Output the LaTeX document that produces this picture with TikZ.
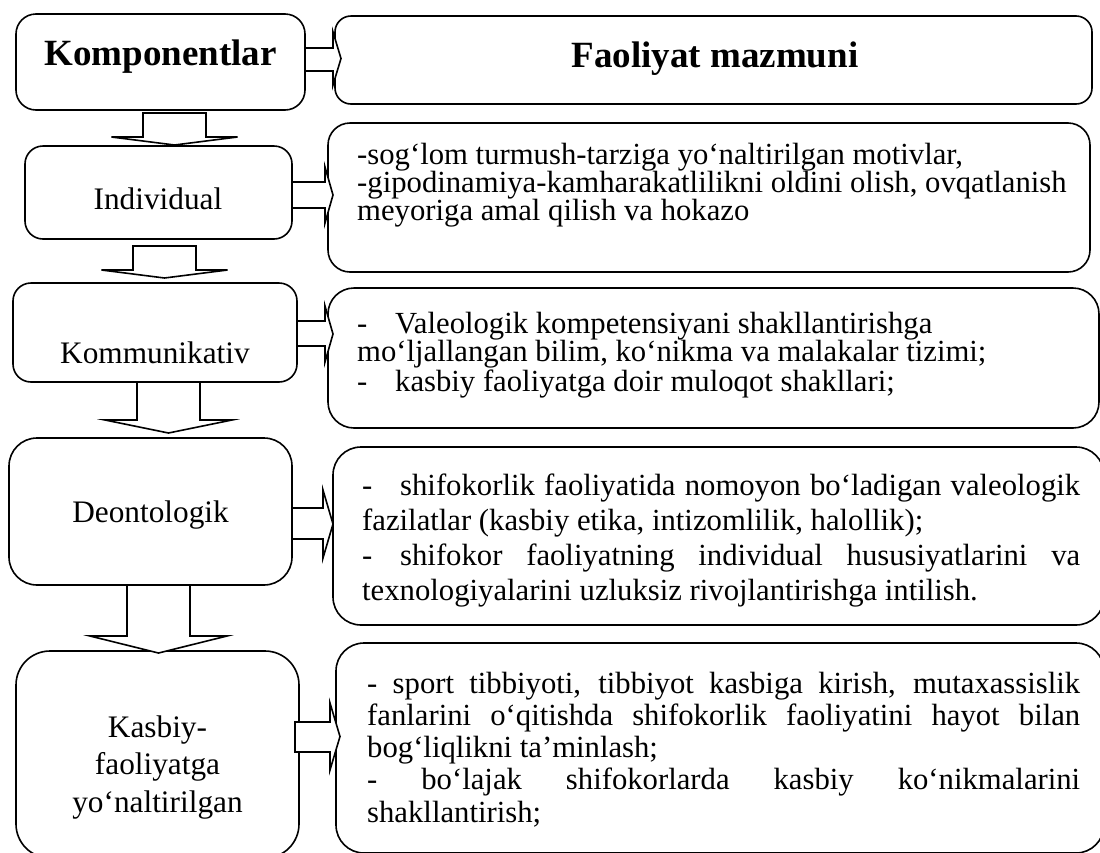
\documentclass[tikz,border=0pt]{standalone}
\usepackage{fontspec}
\setmainfont{Liberation Serif}
\usetikzlibrary{calc}
\newcommand\natsp{\spaceskip=0pt\xspaceskip=0pt\relax}
\tikzset{
  box/.style={draw, line width=1.6pt, rectangle, inner sep=0pt, outer sep=0pt},
  barrow/.style={draw, fill=white, line width=1.6pt, line join=miter},
  lbl/.style={anchor=base, inner sep=0pt, font=\fontsize{31.3pt}{37.5pt}\selectfont},
  hdr/.style={anchor=base, inner sep=0pt, font=\bfseries\fontsize{37pt}{44pt}\selectfont},
  body/.style={anchor=base west, inner sep=0pt, align=left}
}
% down block arrow: src, tgt, cx, shaft half, start gap, head base y, head half, tip offset below tgt north
\newcommand\dnarrow[8]{%
  \draw[barrow] let \p1=(#1.south), \p2=(#2.north) in
    ({#3pt-#4pt},{\y1-(#5pt)}) -- ({#3pt-#4pt},{-#6pt}) -- ({#3pt-#7pt},{-#6pt})
    -- ({#3pt},{\y2-(#8pt)}) -- ({#3pt+#7pt},{-#6pt}) -- ({#3pt+#4pt},{-#6pt})
    -- ({#3pt+#4pt},{\y1-(#5pt)}) -- cycle;}
% right block arrow: src, tgt, start offset, shaft top, shaft bottom, head base x, head top, head bottom, tip offset
\newcommand\rtarrow[9]{%
  \draw[barrow] let \p1=(#1.east), \p2=(#2.west) in
    ({\x1+(#3pt)},{-#4pt}) -- ({#6pt},{-#4pt}) -- ({#6pt},{-#7pt})
    -- ({\x2+(#9pt)},{-(#7pt+#8pt)/2}) -- ({#6pt},{-#8pt}) -- ({#6pt},{-#5pt})
    -- ({\x1+(#3pt)},{-#5pt}) -- cycle;}
\begin{document}
\begin{tikzpicture}[x=1pt,y=-1pt]
\useasboundingbox (0,0) rectangle (1100,852);
\clip (0,0) rectangle (1100,852);
% boxes
\node[box, minimum width=289pt, minimum height=96pt, rounded corners=20pt] (K) at (160.5,62) {};
\node[box, minimum width=757pt, minimum height=88pt, rounded corners=16pt] (F) at (713.5,60) {};
\node[box, minimum width=267pt, minimum height=93pt, rounded corners=18pt] (I) at (158.5,192.5) {};
\node[box, minimum width=762pt, minimum height=149pt, rounded corners=22pt] (R1) at (709,197.5) {};
\node[box, minimum width=284pt, minimum height=99pt, rounded corners=18pt] (Ko) at (155,332.5) {};
\node[box, minimum width=771pt, minimum height=140pt, rounded corners=26pt] (R2) at (713.5,358) {};
\node[box, minimum width=283pt, minimum height=147pt, rounded corners=28pt] (D) at (150.5,511.5) {};
\node[box, minimum width=771pt, minimum height=178pt, rounded corners=28pt] (R3) at (718.5,536) {};
\node[box, minimum width=283pt, minimum height=207pt, rounded corners=34pt] (Ka) at (157.5,754.5) {};
\node[box, minimum width=768pt, minimum height=210pt, rounded corners=28pt] (R4) at (720,748) {};
% down arrows
\dnarrow{K}{I}{174.5}{31.5}{3}{137}{63}{-1}
\dnarrow{I}{Ko}{164.5}{31.5}{7}{270}{63}{-5}
\dnarrow{Ko}{D}{168.5}{31.5}{0}{420}{63.5}{-5}
\dnarrow{D}{Ka}{158.5}{31.5}{0}{636}{68.5}{2}
% right arrows
\rtarrow{K}{F}{0}{48}{71}{333}{32}{85}{6}
\rtarrow{I}{R1}{0}{182}{208}{325}{167}{223}{5}
\rtarrow{Ko}{R2}{0}{321}{346}{325}{306}{362}{5}
\rtarrow{D}{R3}{0}{508}{539}{323}{490}{558}{0}
\rtarrow{Ka}{R4}{-4}{722}{752}{330}{703}{770}{4}
% labels
\node[hdr] (tK) at (160.5,65) {Komponentlar};
\node[hdr] (tF) at (715,67) {Faoliyat mazmuni};
\node[lbl] (tI) at (158,209) {Individual};
\node[lbl] (tKo) at (155,363) {Kommunikativ};
\node[lbl] (tD) at (150.5,522) {Deontologik};
\node[lbl, text width=283pt, align=center] (tKa) at (157.5,737) {Kasbiy-\\faoliyatga\\yo‘naltirilgan};
% body texts
\node[body, text width=740pt, font=\fontsize{30.7pt}{28pt}\selectfont] (b1) at (357,164)
  {\natsp -sog‘lom turmush-tarziga yo‘naltirilgan motivlar,\\
   -gipodinamiya-kamharakatlilikni oldini olish, ovqatlanish\\
   meyoriga amal qilish va hokazo};
\node[body, text width=740pt, font=\fontsize{30.7pt}{27pt}\selectfont] (b2) at (357,333)
  {\natsp \makebox[38pt][l]{-}Valeologik kompetensiyani shakllantirishga\\
   mo‘ljallangan bilim, ko‘nikma va malakalar tizimi;\\
   \makebox[38pt][l]{-}kasbiy faoliyatga doir muloqot shakllari;};
\node[body, text width=718pt, font=\fontsize{30.7pt}{35pt}\selectfont] (b3) at (362,495)
  {\natsp \makebox[718pt][s]{\makebox[38pt][l]{-}shifokorlik faoliyatida nomoyon bo‘ladigan valeologik}\\
   fazilatlar (kasbiy etika, intizomlilik, halollik);\\
   \makebox[718pt][s]{\makebox[38pt][l]{-}shifokor faoliyatning individual hususiyatlarini va}\\
   texnologiyalarini uzluksiz rivojlantirishga intilish.};
\node[body, text width=713pt, font=\fontsize{30.7pt}{32.3pt}\selectfont] (b4) at (367,693)
  {\natsp \makebox[713pt][s]{- sport tibbiyoti, tibbiyot kasbiga kirish, mutaxassislik}\\
   \makebox[713pt][s]{fanlarini o‘qitishda shifokorlik faoliyatini hayot bilan}\\
   bog‘liqlikni ta’minlash;\\
   \makebox[713pt][s]{- bo‘lajak shifokorlarda kasbiy ko‘nikmalarini}\\
   shakllantirish;};
\end{tikzpicture}
\end{document}
